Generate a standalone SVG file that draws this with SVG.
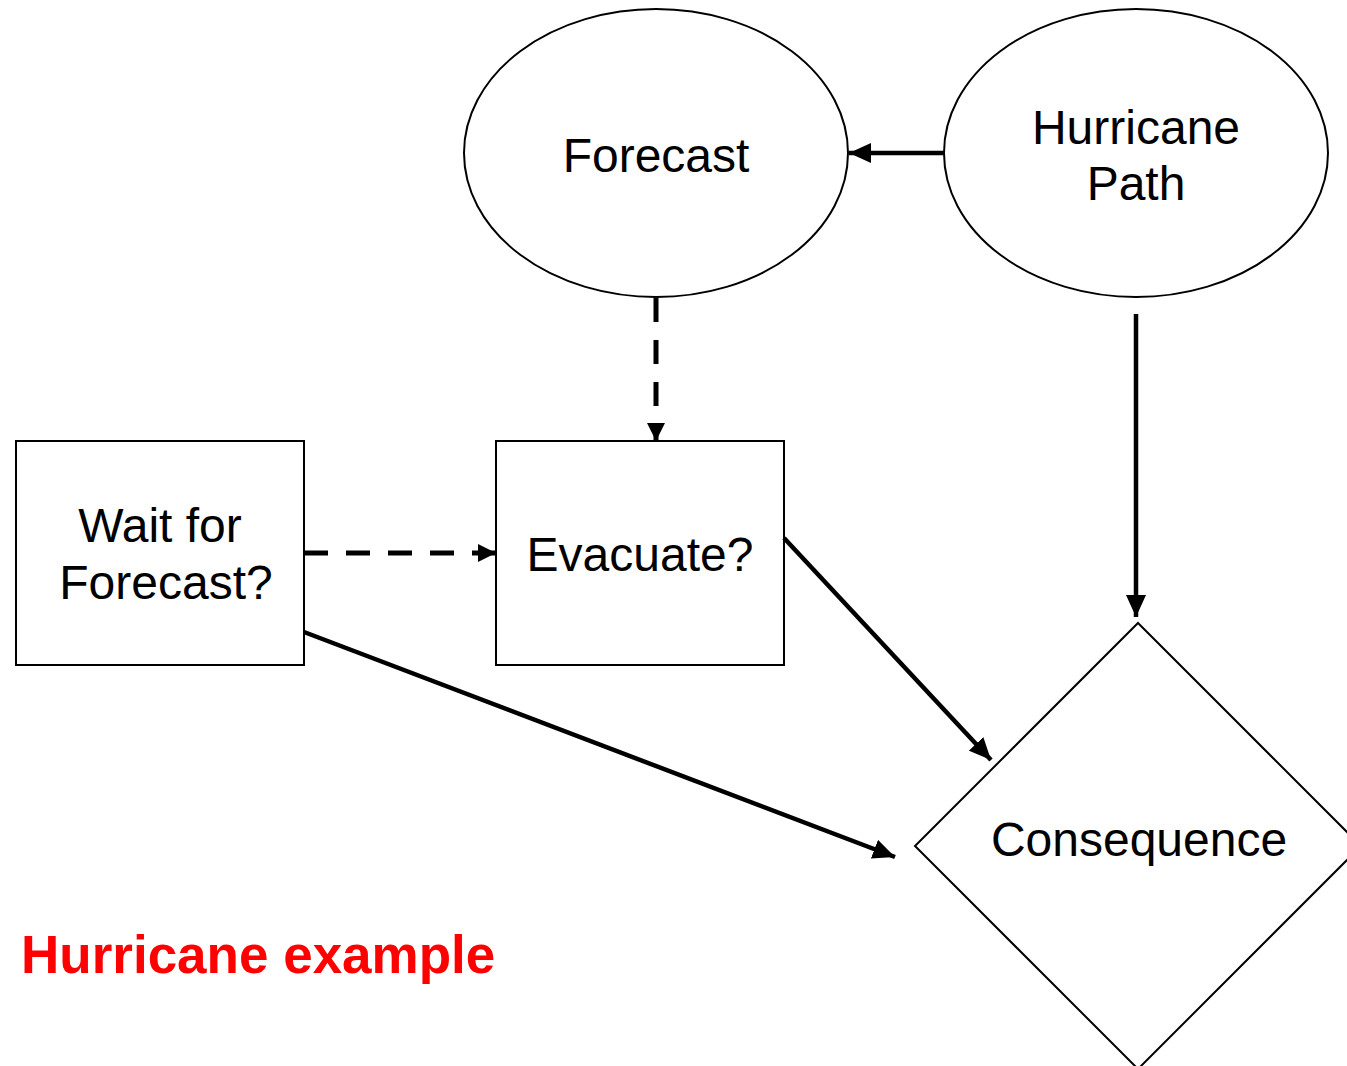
<svg xmlns="http://www.w3.org/2000/svg" width="1347" height="1066" viewBox="0 0 1347 1066">
<style>
.node{fill:#fff;stroke:#000;stroke-width:2}
.lbl{font-family:"Liberation Sans",Arial,sans-serif;font-size:48px;fill:#000;text-anchor:middle}
.c{fill:none;stroke:#000;stroke-width:4.5}
.d{stroke-dasharray:24 18;stroke-width:5}
.title{font-family:"Liberation Sans",Arial,sans-serif;font-size:53px;font-weight:bold;fill:#ff0000}
</style>
<defs>
<marker id="ah" viewBox="0 0 10 10" refX="10" refY="5" markerWidth="18" markerHeight="18" markerUnits="userSpaceOnUse" orient="auto">
<path d="M0,0 L10,5 L0,10 z" fill="#000"/>
</marker>
<marker id="ahl" viewBox="0 0 10 10" refX="10" refY="5" markerWidth="22" markerHeight="20" markerUnits="userSpaceOnUse" orient="auto" preserveAspectRatio="none">
<path d="M0,0 L10,5 L0,10 z" fill="#000"/>
</marker>
</defs>
<g id="forecast"><ellipse class="node" cx="656" cy="153" rx="192" ry="144"/><text class="lbl" x="656" y="172">Forecast</text></g>
<g id="hurricane-path"><ellipse class="node" cx="1136" cy="153" rx="192" ry="144"/><text class="lbl" x="1136" y="144">Hurricane</text><text class="lbl" x="1136" y="200">Path</text></g>
<g id="wait"><rect class="node" x="16" y="441" width="288" height="224"/><text class="lbl" x="160" y="542">Wait for</text><text class="lbl" x="166" y="599">Forecast?</text></g>
<g id="evacuate"><rect class="node" x="496" y="441" width="288" height="224"/><text class="lbl" x="640" y="571">Evacuate?</text></g>
<g id="consequence"><polygon class="node" points="1138,623 1361,846 1138,1069 915,846"/><text class="lbl" x="1139" y="856">Consequence</text></g>
<g id="label"><text class="title" x="21" y="973">Hurricane example</text></g>
<g id="connectors">
<line class="c" x1="944" y1="153" x2="849" y2="153" marker-end="url(#ahl)"/>
<line class="c d" x1="656" y1="298" x2="656" y2="441" marker-end="url(#ah)"/>
<line class="c d" x1="304" y1="553" x2="496" y2="553" marker-end="url(#ah)"/>
<line class="c" x1="784" y1="538" x2="991" y2="760" marker-end="url(#ahl)"/>
<line class="c" x1="304" y1="632" x2="895" y2="857" marker-end="url(#ahl)"/>
<line class="c" x1="1136" y1="314" x2="1136" y2="617" marker-end="url(#ahl)"/>
</g>
</svg>
